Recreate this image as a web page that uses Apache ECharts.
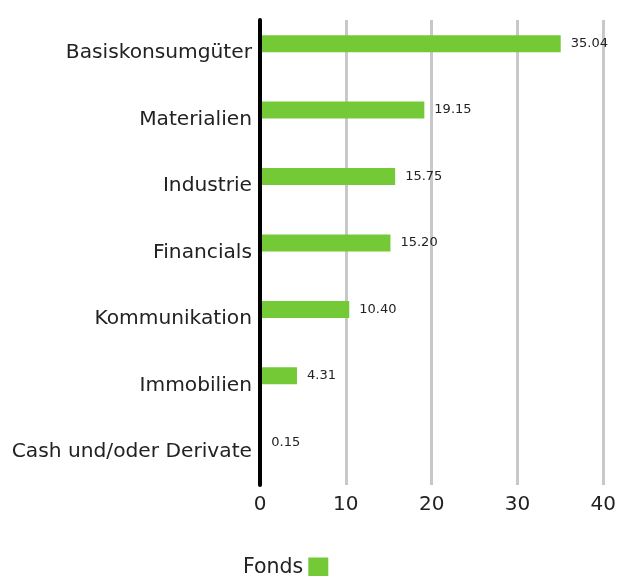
<!DOCTYPE html>
<html>
<head>
<meta charset="utf-8">
<script src="https://cdn.jsdelivr.net/npm/echarts@6/dist/echarts.min.js"></script>
<style>
	html, body { margin: 0; padding: 0; background: #fff; }
	#chart { width: 619px; height: 576px; }
</style>
</head>
<body>
<div id="chart"></div>
<script>
	const categories = ['Basiskonsumgüter', 'Materialien', 'Industrie', 'Financials', 'Kommunikation', 'Immobilien', 'Cash und/oder Derivate']
	const fondsValues = [35.04, 19.15, 15.75, 15.20, 10.40, 4.31, 0.15]
	const xTicks = [0, 10, 20, 30, 40]

	let mychart = echarts.init(document.getElementById('chart'))
	let option = {
		animation: false,
		textStyle: { fontFamily: 'DejaVu Sans' },
		grid: { left: 260, right: 6, top: 20, bottom: 91, containLabel: false },
		legend: {
			bottom: -7,
			left: 238,
			align: 'right',
			itemWidth: 20,
			itemHeight: 20,
			itemGap: 11,
			icon: 'rect',
			data: ['Fonds'],
			textStyle: { fontSize: 20.5, color: '#222', fontFamily: 'DejaVu Sans' }
		},
		xAxis: {
			type: 'value',
			min: xTicks[0],
			max: xTicks[xTicks.length - 1],
			interval: 10,
			axisLine: { show: false },
			axisTick: { show: false },
			splitLine: { lineStyle: { color: '#c8c8c8', width: 3 } },
			axisLabel: { fontSize: 20, color: '#222', margin: 10, fontFamily: 'DejaVu Sans' }
		},
		yAxis: {
			type: 'category',
			inverse: true,
			data: categories,
			z: 5,
			axisLine: { show: true, lineStyle: { color: '#000', width: 4 } },
			axisTick: { show: false },
			axisLabel: { fontSize: 20.2, color: '#222', margin: 8, fontFamily: 'DejaVu Sans' }
		},
		series: [
			{
				name: 'Fonds',
				type: 'bar',
				data: fondsValues,
				barWidth: 17,
				barGap: '12%',
				z: 2,
				itemStyle: { color: '#74c936' },
				label: {
					show: true,
					position: 'right',
					distance: 10,
					fontSize: 13,
					color: '#222',
					fontFamily: 'DejaVu Sans',
					formatter: p => p.value.toFixed(2)
				}
			},
			{
				name: 'Leer',
				type: 'bar',
				data: categories.map(() => null),
				barWidth: 17,
				itemStyle: { color: 'transparent' }
			}
		]
	}
	mychart.setOption(option)
</script>
</body>
</html>
